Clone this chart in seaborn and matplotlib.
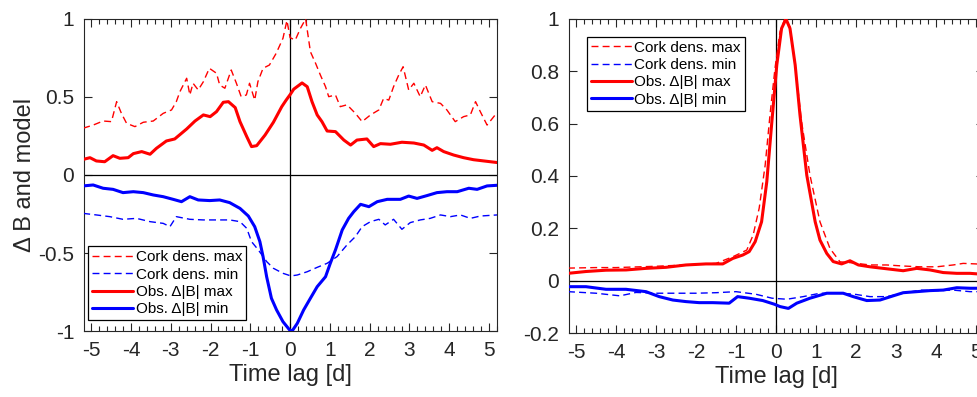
import numpy as np
import pandas as pd
import matplotlib
matplotlib.use("Agg")
import matplotlib.pyplot as plt
from matplotlib.ticker import MultipleLocator
import seaborn as sns

# ---------------- data: left panel ----------------
L_obs_max_x = [-5.2, -5.03, -4.87, -4.66, -4.45, -4.28, -4.07, -3.94, -3.73, -3.52, -3.36, -3.11, -2.90,
               -2.60, -2.39, -2.18, -2.01, -1.85, -1.68, -1.55, -1.38, -1.26, -1.09, -0.97, -0.84, -0.63,
               -0.42, -0.21, -0.10, 0.0, 0.09, 0.30, 0.43, 0.55, 0.68, 0.80, 0.93, 1.14, 1.35, 1.52, 1.68,
               1.93, 2.10, 2.27, 2.52, 2.81, 3.11, 3.36, 3.57, 3.69, 3.86, 4.11, 4.36, 4.61, 4.87, 5.2]
L_obs_max_y = [0.10, 0.111, 0.09, 0.085, 0.124, 0.107, 0.111, 0.137, 0.15, 0.133, 0.171, 0.218, 0.231,
               0.295, 0.346, 0.385, 0.374, 0.406, 0.466, 0.47, 0.432, 0.342, 0.246, 0.182, 0.188, 0.256,
               0.338, 0.438, 0.48, 0.515, 0.55, 0.59, 0.566, 0.47, 0.385, 0.342, 0.282, 0.278, 0.224, 0.192,
               0.224, 0.231, 0.182, 0.201, 0.197, 0.21, 0.205, 0.192, 0.158, 0.175, 0.15, 0.128, 0.111,
               0.098, 0.09, 0.08]

L_cork_max_x = [-5.2, -4.95, -4.70, -4.49, -4.36, -4.24, -4.11, -3.90, -3.69, -3.44, -3.19, -2.98, -2.86,
                -2.77, -2.60, -2.52, -2.44, -2.31, -2.18, -2.03, -1.85, -1.77, -1.64, -1.48, -1.35, -1.23,
                -1.10, -1.02, -0.89, -0.81, -0.68, -0.52, -0.35, -0.18, -0.08, 0.0, 0.13, 0.26, 0.39, 0.51,
                0.64, 0.76, 0.89, 0.97, 1.14, 1.26, 1.43, 1.64, 1.81, 2.02, 2.23, 2.35, 2.48, 2.60, 2.73,
                2.84, 2.98, 3.11, 3.27, 3.40, 3.57, 3.78, 3.94, 4.15, 4.36, 4.53, 4.66, 4.78, 4.95, 5.2]
L_cork_max_y = [0.30, 0.32, 0.346, 0.342, 0.47, 0.395, 0.331, 0.31, 0.338, 0.346, 0.395, 0.417, 0.47,
                0.534, 0.62, 0.513, 0.588, 0.545, 0.598, 0.684, 0.652, 0.577, 0.556, 0.673, 0.588, 0.502,
                0.513, 0.588, 0.48, 0.598, 0.684, 0.705, 0.78, 0.876, 0.99, 0.88, 0.865, 0.94, 1.0, 0.79,
                0.716, 0.641, 0.566, 0.502, 0.513, 0.438, 0.45, 0.395, 0.342, 0.385, 0.417, 0.491, 0.48,
                0.566, 0.641, 0.694, 0.545, 0.588, 0.502, 0.577, 0.47, 0.459, 0.417, 0.342, 0.374, 0.385,
                0.47, 0.406, 0.32, 0.40]

L_obs_min_x = [-5.2, -4.95, -4.70, -4.45, -4.20, -3.94, -3.69, -3.44, -3.19, -2.94, -2.73, -2.52, -2.31,
               -2.02, -1.77, -1.52, -1.26, -1.05, -0.89, -0.76, -0.68, -0.59, -0.47, -0.34, -0.18, -0.01,
               0.05, 0.18, 0.34, 0.51, 0.68, 0.89, 1.01, 1.14, 1.31, 1.47, 1.60, 1.77, 1.98, 2.19, 2.44,
               2.77, 2.98, 3.19, 3.44, 3.69, 3.94, 4.20, 4.49, 4.70, 4.95, 5.2]
L_obs_min_y = [-0.07, -0.064, -0.085, -0.092, -0.113, -0.107, -0.113, -0.128, -0.139, -0.156, -0.171,
               -0.139, -0.16, -0.164, -0.16, -0.177, -0.214, -0.263, -0.331, -0.427, -0.523, -0.652,
               -0.79, -0.865, -0.94, -0.994, -1.0, -0.951, -0.865, -0.79, -0.716, -0.652, -0.566, -0.48,
               -0.352, -0.278, -0.235, -0.188, -0.203, -0.171, -0.156, -0.156, -0.135, -0.15, -0.132,
               -0.113, -0.107, -0.107, -0.085, -0.092, -0.07, -0.066]

L_cork_min_x = [-5.2, -4.87, -4.53, -4.20, -3.86, -3.52, -3.19, -3.02, -2.86, -2.52, -2.18, -1.85, -1.52,
                -1.26, -1.09, -0.97, -0.80, -0.59, -0.42, -0.18, 0.02, 0.18, 0.43, 0.68, 0.93, 1.18, 1.43,
                1.64, 1.81, 2.02, 2.23, 2.39, 2.60, 2.81, 3.02, 3.27, 3.52, 3.78, 4.03, 4.28, 4.53, 4.78, 5.2]
L_cork_min_y = [-0.246, -0.256, -0.267, -0.284, -0.278, -0.299, -0.31, -0.331, -0.267, -0.284, -0.288,
                -0.288, -0.288, -0.299, -0.342, -0.427, -0.48, -0.555, -0.598, -0.63, -0.647, -0.641,
                -0.62, -0.592, -0.566, -0.523, -0.448, -0.395, -0.331, -0.299, -0.284, -0.32, -0.284,
                -0.348, -0.305, -0.288, -0.278, -0.256, -0.267, -0.256, -0.278, -0.263, -0.256]

# ---------------- data: right panel ----------------
R_obs_max_x = [-5.2, -4.75, -4.25, -3.75, -3.25, -2.75, -2.25, -1.75, -1.33, -1.08, -0.83, -0.67, -0.52,
               -0.36, -0.23, -0.11, 0.02, 0.14, 0.25, 0.35, 0.48, 0.6, 0.77, 0.98, 1.1, 1.27, 1.43, 1.64,
               1.85, 2.06, 2.35, 2.68, 3.18, 3.52, 3.85, 4.18, 4.52, 4.85, 5.2]
R_obs_max_y = [0.028, 0.035, 0.04, 0.041, 0.047, 0.051, 0.06, 0.064, 0.064, 0.085, 0.098, 0.111, 0.149,
               0.225, 0.378, 0.595, 0.824, 0.964, 1.0, 0.964, 0.824, 0.633, 0.403, 0.225, 0.155, 0.104,
               0.073, 0.064, 0.076, 0.06, 0.053, 0.047, 0.038, 0.047, 0.041, 0.031, 0.028, 0.028, 0.024]

R_cork_max_x = [-5.2, -4.5, -4.0, -3.0, -2.0, -1.5, -1.07, -0.73, -0.57, -0.42, -0.27, -0.15, -0.025,
                0.1, 0.22, 0.35, 0.48, 0.64, 0.85, 1.1, 1.35, 1.6, 1.85, 2.35, 2.77, 3.18, 3.6, 4.02,
                4.43, 4.68, 5.0, 5.2]
R_cork_max_y = [0.048, 0.05, 0.05, 0.055, 0.062, 0.066, 0.092, 0.117, 0.175, 0.277, 0.442, 0.633, 0.811,
                0.951, 1.0, 0.97, 0.824, 0.607, 0.403, 0.225, 0.123, 0.072, 0.069, 0.06, 0.06, 0.056,
                0.053, 0.053, 0.06, 0.066, 0.064, 0.062]

R_obs_min_x = [-5.2, -4.75, -4.25, -3.75, -3.25, -2.92, -2.58, -2.25, -1.92, -1.58, -1.17, -0.96, -0.67,
               -0.33, -0.04, 0.1, 0.31, 0.52, 0.85, 1.27, 1.68, 1.93, 2.27, 2.6, 2.93, 3.18, 3.52, 3.85,
               4.18, 4.52, 4.85, 5.2]
R_obs_min_y = [-0.023, -0.023, -0.033, -0.033, -0.042, -0.061, -0.074, -0.08, -0.084, -0.084, -0.086,
               -0.061, -0.067, -0.076, -0.09, -0.099, -0.106, -0.086, -0.067, -0.048, -0.048, -0.061,
               -0.076, -0.074, -0.058, -0.046, -0.042, -0.038, -0.036, -0.027, -0.029, -0.029]

R_cork_min_x = [-5.2, -4.5, -3.9, -3.5, -3.0, -2.0, -1.5, -1.0, -0.5, -0.1, 0.27, 0.68, 1.1, 1.52, 1.93,
                2.35, 2.77, 3.18, 3.6, 4.02, 4.43, 4.85, 5.2]
R_cork_min_y = [-0.042, -0.048, -0.058, -0.045, -0.048, -0.048, -0.046, -0.042, -0.052, -0.067, -0.071,
                -0.061, -0.048, -0.048, -0.051, -0.061, -0.061, -0.048, -0.036, -0.038, -0.036, -0.042,
                -0.042]

labels = ["Cork dens. max", "Cork dens. min", "Obs. \u0394|B| max", "Obs. \u0394|B| min"]
x_ticks = [-5, -4, -3, -2, -1, 0, 1, 2, 3, 4, 5]
L_y_ticks = [-1, -0.5, 0, 0.5, 1]
L_y_ticklabels = ["-1", "-0.5", "0", "0.5", "1"]
R_y_ticks = [-0.2, 0, 0.2, 0.4, 0.6, 0.8, 1.0]
R_y_ticklabels = ["-0.2", "0", "0.2", "0.4", "0.6", "0.8", "1"]

# ---------------- style ----------------
sns.set_style("white")
plt.rcParams["font.family"] = ["Liberation Sans", "DejaVu Sans"]
plt.rcParams["axes.unicode_minus"] = False
TXT = "#262626"

fig = plt.figure(figsize=(9.78, 3.97), dpi=100)
ax1 = fig.add_axes([0.0859, 0.1662, 0.4223, 0.786])
ax2 = fig.add_axes([0.5818, 0.1612, 0.4243, 0.791])

def draw(ax, series):
    ax.axhline(0, color="black", lw=0.9, zorder=1)
    ax.axvline(0, color="black", lw=0.9, zorder=1)
    styles = [("red", (0, (5, 3)), 1.0), ("blue", (0, (5, 3)), 1.0),
              ("red", "-", 2.2), ("blue", "-", 2.2)]
    for (xs, ys), lab, (c, ls, lw) in zip(series, labels, styles):
        df = pd.DataFrame({"x": xs, "y": ys})
        sns.lineplot(data=df, x="x", y="y", ax=ax, color=c, linestyle=ls,
                     linewidth=lw, label=lab, zorder=3)

draw(ax1, [(L_cork_max_x, L_cork_max_y), (L_cork_min_x, L_cork_min_y),
           (L_obs_max_x, L_obs_max_y), (L_obs_min_x, L_obs_min_y)])
draw(ax2, [(R_cork_max_x, R_cork_max_y), (R_cork_min_x, R_cork_min_y),
           (R_obs_max_x, R_obs_max_y), (R_obs_min_x, R_obs_min_y)])

ax1.set_xlim(-5.18, 5.2)
ax1.set_ylim(-1, 1)
ax1.set_yticks(L_y_ticks, L_y_ticklabels)
ax2.set_xlim(-5.175, 5.2)
ax2.set_ylim(-0.2, 1.0)
ax2.set_yticks(R_y_ticks, R_y_ticklabels)

for ax in (ax1, ax2):
    ax.set_xticks(x_ticks, [str(t) for t in x_ticks])
    ax.xaxis.set_minor_locator(MultipleLocator(0.2))
    ax.tick_params(which="both", direction="in", top=True, right=True, bottom=True, left=True,
                   colors=TXT, labelcolor=TXT, width=0.8)
    ax.tick_params(which="major", length=6, pad=7, labelsize=15)
    ax.tick_params(which="minor", length=3.5)
    ax.tick_params(axis="y", which="minor", left=False, right=False)
    for sp in ax.spines.values():
        sp.set_color(TXT)
        sp.set_linewidth(0.8)
    ax.set_xlabel("Time lag [d]", fontsize=17, color=TXT, labelpad=3)
    ax.set_ylabel("")

ax1.set_ylabel("\u0394 B and model", fontsize=17, color=TXT, labelpad=2)

leg_kw = dict(fontsize=11, frameon=True, fancybox=False, framealpha=1, edgecolor="black",
              handlelength=2.7, handletextpad=0.15, labelspacing=0.22, borderpad=0.25,
              borderaxespad=0)
l1 = ax1.legend(loc="lower left", bbox_to_anchor=(0.01, 0.035), **leg_kw)
l2 = ax2.legend(loc="upper left", bbox_to_anchor=(0.043, 0.943), **leg_kw)
for lg in (l1, l2):
    lg.get_frame().set_linewidth(0.9)
    for t in lg.get_texts():
        t.set_color("black")

fig.savefig("out.png", dpi=100)
